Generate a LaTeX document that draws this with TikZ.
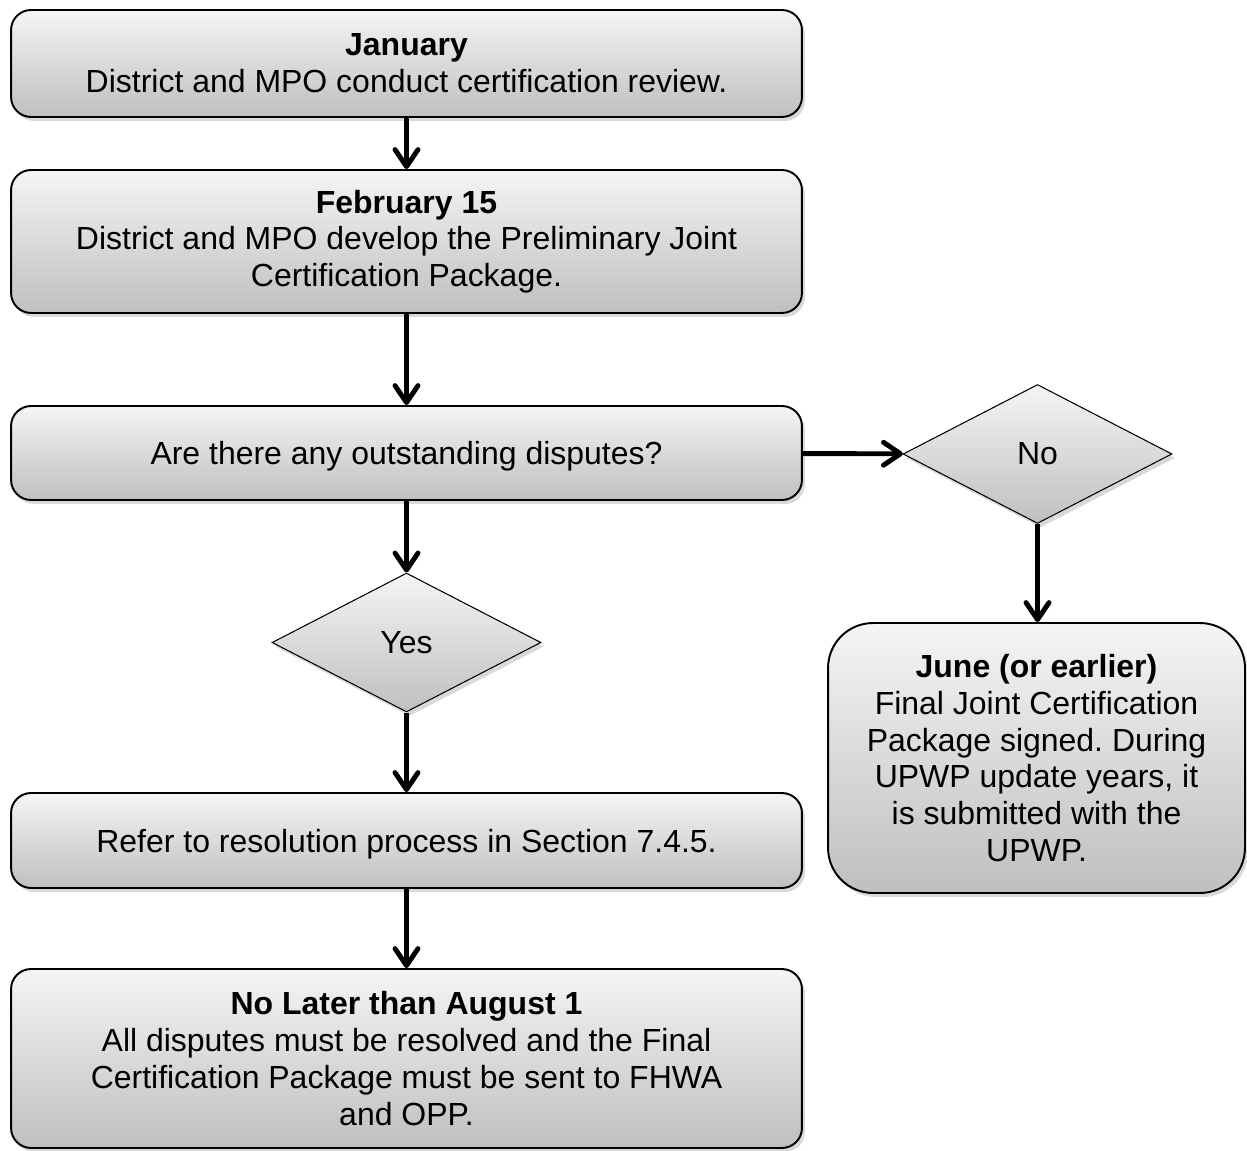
\documentclass[tikz,border=0pt]{standalone}
\usepackage{fontspec}
\setmainfont{Liberation Sans}
\usetikzlibrary{arrows.meta,shapes.geometric,shadows}
\frenchspacing
\begin{document}
\begin{tikzpicture}[x=0.02cm,y=-0.02cm,
  shade/.style={top color=gray!8, bottom color=gray!50,
    drop shadow={opacity=0.3,shadow xshift=0.6mm,shadow yshift=-0.8mm}},
  box/.style={shade, draw=black, line width=1.1pt, rounded corners=0.4cm,
    align=center, inner sep=0pt, font=\fontsize{18.2}{20.9}\selectfont},
  wide/.style={box, minimum width=15.82cm},
  dec/.style={shade, draw=black, line width=0.6pt, diamond, inner sep=0pt, text depth=0pt,
    minimum width=5.38cm, minimum height=2.78cm, font=\fontsize{18.2}{20.9}\selectfont},
  arr/.style={line width=2.8pt, -{Straight Barb[length=3.4mm,width=4.6mm,line cap=round,round]}}
]
\useasboundingbox (0,0) rectangle (1247,1151);
\node[wide, minimum height=2.14cm] (jan) at (406.5,63.5)
  {\textbf{January}\\District and MPO conduct certification review.};
\node[wide, minimum height=2.86cm] (feb) at (406.5,241.5)
  {\textbf{February 15}\\District and MPO develop the Preliminary Joint\\Certification Package.};
\node[wide, minimum height=1.88cm, text depth=0pt] (disp) at (406.5,453)
  {Are there any outstanding disputes?};
\node[dec] (yes) at (406.5,642.5) {Yes};
\node[dec] (no) at (1037.5,454) {No};
\node[wide, minimum height=1.9cm, text depth=0pt] (ref) at (406.5,840.5)
  {Refer to resolution process in Section 7.4.5.};
\node[wide, minimum height=3.58cm] (fin) at (406.5,1058.5)
  {\textbf{No Later than August 1}\\All disputes must be resolved and the Final\\Certification Package must be sent to FHWA\\and OPP.};
\node[box, rounded corners=0.9cm, minimum width=8.34cm, minimum height=5.4cm] (jun) at (1036.5,758)
  {\textbf{June (or earlier)}\\Final Joint Certification\\Package signed. During\\UPWP update years, it\\is submitted with the\\UPWP.};
\draw[arr] (jan) -- (feb);
\draw[arr] (feb) -- (disp);
\draw[arr] (disp) -- (yes);
\draw[arr] (yes) -- (ref);
\draw[arr] (ref) -- (fin);
\draw[arr] (disp) -- (no);
\draw[arr] (no.south) -- (no.south |- jun.north);
\end{tikzpicture}
\end{document}
